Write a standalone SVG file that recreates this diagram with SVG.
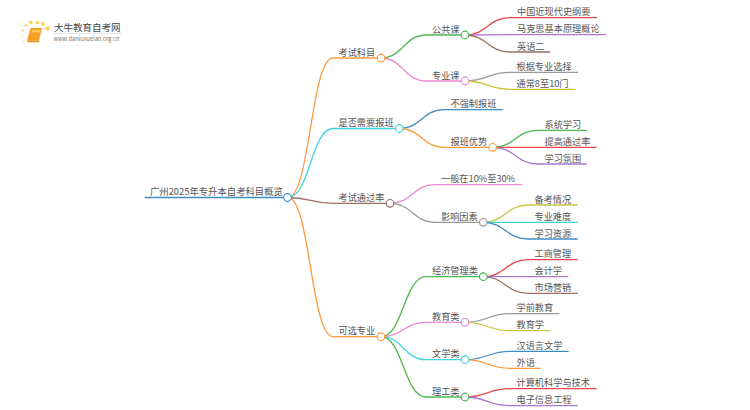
<svg xmlns="http://www.w3.org/2000/svg" width="750" height="410" viewBox="0 0 750 410">
<style>
text{font-family:"Noto Sans CJK SC","Noto Sans",sans-serif;font-size:9.2px;fill:#555}
.c path{fill:none;stroke-width:1.3}
circle{fill:#fff;stroke-width:1.2}
.or{stroke:#ff9a3c}.cy{stroke:#3fd3e0}.br{stroke:#9c6f66}.bl{stroke:#3f8cc6}.gr{stroke:#4fb84f}.pk{stroke:#ee88d8}.gy{stroke:#999}.ol{stroke:#c8c83c}.pu{stroke:#aa78d2}.re{stroke:#e6474f}
</style>
<g id="logo">
<circle cx="47.500" cy="28.500" r="2.200" style="fill:#fbd25c;stroke:none"/><circle cx="43" cy="24" r="1.900" style="fill:#fbd25c;stroke:none"/><circle cx="37.500" cy="22.500" r="1.800" style="fill:#fbd25c;stroke:none"/><circle cx="31" cy="22.500" r="1.800" style="fill:#fbd25c;stroke:none"/><circle cx="26" cy="25.500" r="1.500" style="fill:#fce08c;stroke:none"/><circle cx="22.500" cy="30.500" r="1.300" style="fill:#fce08c;stroke:none"/><circle cx="22" cy="36.500" r="1.100" style="fill:#fdeab0;stroke:none"/><circle cx="23.500" cy="42" r="1" style="fill:#fdeab0;stroke:none"/>
<path d="M30.500 28H42L39 40.500H27Z" fill="#f8a024"/><path d="M32 30H40L39.500 32.500H31.500Z" fill="#fcc860"/><path d="M27 40.500H39L39.500 42.300H28Z" fill="#e58a18"/>
<text x="54" y="31" style="font-size:9.500px;fill:#444">大牛教育自考网</text>
<path d="M54 33.500H122" stroke="#ddd" stroke-width="0.700"/>
<text x="53.500" y="41" style="font-size:5.700px;fill:#777">www.daniuxueiao.org.cn</text>
</g>
<g id="connectors" class="c">
<path class="bl" stroke-width="1.500" d="M145 197.500H288"/>
<path class="or" d="M288 197.500C310 197.500 311 58 333 58H381"/>
<path class="cy" d="M288 197.500C310 197.500 311 128.500 333 128.500H399.300"/>
<path class="br" d="M288 197.500C310 197.500 311 203.300 333 203.300H390"/>
<path class="or" d="M288 197.500C310 197.500 311 336.700 333 336.700H381"/>
<path class="gr" d="M381 58C403 58 404 35 426 35H465"/>
<path class="pk" d="M381 58C403 58 404 81 426 81H465"/>
<path class="re" d="M465 35C487 35 488 17.700 510 17.700H597"/>
<path class="pu" d="M465 35C487 35 488 34.700 510 34.700H606"/>
<path class="br" d="M465 35C487 35 488 52 510 52H550"/>
<path class="gy" d="M465 81C487 81 488 72.300 510 72.300H578"/>
<path class="ol" d="M465 81C487 81 488 89.300 510 89.300H575"/>
<path class="bl" d="M399.300 128.500C421 128.500 422 109.700 444.300 109.700H502.700"/>
<path class="or" d="M399.300 128.500C421 128.500 422 147.300 444.300 147.300H492.700"/>
<path class="gr" d="M492.700 147.300C515 147.300 516 130.300 538 130.300H586.700"/>
<path class="re" d="M492.700 147.300C515 147.300 516 147.300 538 147.300H596.700"/>
<path class="pu" d="M492.700 147.300C515 147.300 516 164 538 164H586.700"/>
<path class="pk" d="M390 203.300C412 203.300 413 184.700 435 184.700H522.300"/>
<path class="gy" d="M390 203.300C412 203.300 413 222.300 435 222.300H483.300"/>
<path class="ol" d="M483.300 222.300C505 222.300 506 205 528.300 205H577.700"/>
<path class="cy" d="M483.300 222.300C505 222.300 506 222.300 528.300 222.300H577.700"/>
<path class="bl" d="M483.300 222.300C505 222.300 506 239 528.300 239H577.700"/>
<path class="gr" d="M381 336.700C403 336.700 404 276.700 426 276.700H483.300"/>
<path class="pk" d="M381 336.700C403 336.700 404 322.300 426 322.300H465"/>
<path class="cy" d="M381 336.700C403 336.700 404 359.700 426 359.700H465"/>
<path class="gr" d="M381 336.700C403 336.700 404 397 426 397H465"/>
<path class="re" d="M483.300 276.700C505 276.700 506 259.700 528.300 259.700H577.700"/>
<path class="pu" d="M483.300 276.700C505 276.700 506 276.700 528.300 276.700H568.300"/>
<path class="br" d="M483.300 276.700C505 276.700 506 293.300 528.300 293.300H577.700"/>
<path class="gy" d="M465 322.300C487 322.300 488 313.700 510 313.700H559.300"/>
<path class="ol" d="M465 322.300C487 322.300 488 330.700 510 330.700H550"/>
<path class="bl" d="M465 359.700C487 359.700 488 351.300 510 351.300H568.700"/>
<path class="or" d="M465 359.700C487 359.700 488 368.300 510 368.300H540.700"/>
<path class="re" d="M465 397C487 397 488 388.700 510 388.700H596.700"/>
<path class="pu" d="M465 397C487 397 488 405.700 510 405.700H577.700"/>
</g>
<g id="n0"><text x="150" y="195" style="font-size:9.350px">广州2025年专升本自考科目概览</text><circle class="bl" cx="287.500" cy="197.500" r="3.800"/></g>
<g id="n1"><text x="338.500" y="55.500">考试科目</text><circle class="or" cx="381" cy="58" r="3.800"/></g>
<g id="n2"><text x="432" y="32.500">公共课</text><circle class="gr" cx="465" cy="35" r="3.800"/></g>
<g id="n3"><text x="517" y="15.200">中国近现代史纲要</text></g>
<g id="n4"><text x="517" y="32.200">马克思基本原理概论</text></g>
<g id="n5"><text x="517" y="49.500">英语二</text></g>
<g id="n6"><text x="432" y="78.500">专业课</text><circle class="pk" cx="465" cy="81" r="3.800"/></g>
<g id="n7"><text x="516.500" y="69.800">根据专业选择</text></g>
<g id="n8"><text x="516.500" y="86.800">通常8至10门</text></g>
<g id="n9"><text x="338.500" y="126">是否需要报班</text><circle class="cy" cx="399.300" cy="128.500" r="3.800"/></g>
<g id="n10"><text x="450.500" y="107.200">不强制报班</text></g>
<g id="n11"><text x="450.500" y="144.800">报班优势</text><circle class="or" cx="492.700" cy="147.300" r="3.800"/></g>
<g id="n12"><text x="544.500" y="127.800">系统学习</text></g>
<g id="n13"><text x="544.500" y="144.800">提高通过率</text></g>
<g id="n14"><text x="544.500" y="161.500">学习氛围</text></g>
<g id="n15"><text x="338.500" y="200.800">考试通过率</text><circle class="br" cx="390" cy="203.300" r="3.800"/></g>
<g id="n16"><text x="441" y="182.200">一般在10%至30%</text></g>
<g id="n17"><text x="441" y="219.800">影响因素</text><circle class="gy" cx="483.300" cy="222.300" r="3.800"/></g>
<g id="n18"><text x="534.500" y="202.500">备考情况</text></g>
<g id="n19"><text x="534.500" y="219.800">专业难度</text></g>
<g id="n20"><text x="534.500" y="236.500">学习资源</text></g>
<g id="n21"><text x="338.500" y="334.200">可选专业</text><circle class="or" cx="381" cy="336.700" r="3.800"/></g>
<g id="n22"><text x="432" y="274.200">经济管理类</text><circle class="gr" cx="483.300" cy="276.700" r="3.800"/></g>
<g id="n23"><text x="534.500" y="257.200">工商管理</text></g>
<g id="n24"><text x="534.500" y="274.200">会计学</text></g>
<g id="n25"><text x="534.500" y="290.800">市场营销</text></g>
<g id="n26"><text x="432" y="319.800">教育类</text><circle class="pk" cx="465" cy="322.300" r="3.800"/></g>
<g id="n27"><text x="516.500" y="311.200">学前教育</text></g>
<g id="n28"><text x="516.500" y="328.200">教育学</text></g>
<g id="n29"><text x="432" y="357.200">文学类</text><circle class="cy" cx="465" cy="359.700" r="3.800"/></g>
<g id="n30"><text x="516.500" y="348.800">汉语言文学</text></g>
<g id="n31"><text x="516.500" y="365.800">外语</text></g>
<g id="n32"><text x="432" y="394.500">理工类</text><circle class="gr" cx="465" cy="397" r="3.800"/></g>
<g id="n33"><text x="516.500" y="386.200">计算机科学与技术</text></g>
<g id="n34"><text x="516.500" y="403.200">电子信息工程</text></g>
</svg>
